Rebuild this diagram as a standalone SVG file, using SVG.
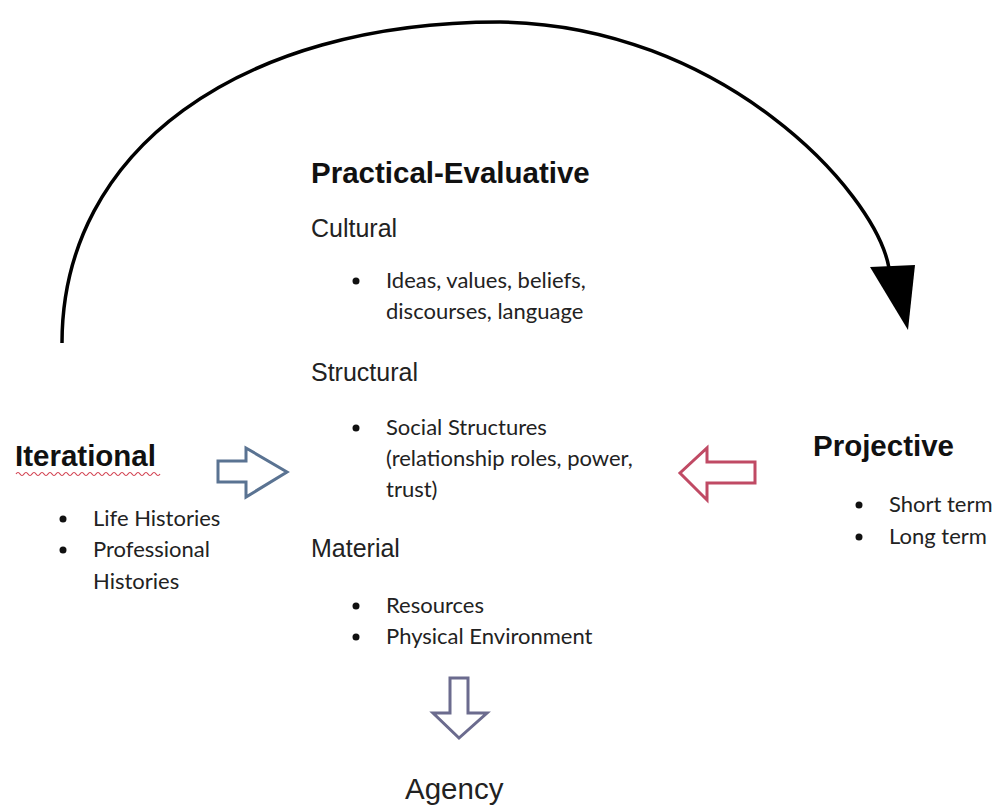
<svg xmlns="http://www.w3.org/2000/svg" width="999" height="805" viewBox="0 0 999 805">
<style>
.h{font-family:"Liberation Sans",Arial,sans-serif;font-weight:bold;font-size:29.5px;fill:#111}
.s{font-family:"Liberation Sans",Arial,sans-serif;font-size:25px;fill:#222}
.b{font-family:Lato,"Open Sans",sans-serif;font-size:22px;fill:#222}
.dot{fill:#111}
</style>
<rect width="999" height="805" fill="#fff"/>
<g id="connectors">
<path d="M62 343 C62 150 240 22 500 22 C720 25 875 190 889 268" fill="none" stroke="#000" stroke-width="3.5"/>
<polygon points="870,267 915,265 908,330" fill="#000"/>
<path id="arrow-right" d="M218 461 H246 V448 L287 472 L246 497 V482 H218 Z" fill="#fff" stroke="#5a7392" stroke-width="3" stroke-linejoin="miter"/>
<path id="arrow-left" d="M755 462 H707 V448 L680 473 L707 500 V483 H755 Z" fill="#fff" stroke="#c04a64" stroke-width="3"/>
<path id="arrow-down" d="M450 678 H468 V713 H487 L459 738 L433 713 H450 Z" fill="#fff" stroke="#6b6b8e" stroke-width="3"/>
</g>
<g id="practical-evaluative">
<text class="h" x="311" y="183">Practical-Evaluative</text>
<text class="s" x="311" y="237">Cultural</text>
<circle class="dot" cx="356" cy="281" r="3.5"/>
<text class="b" x="386" y="288">Ideas, values, beliefs,</text>
<text class="b" x="386" y="319">discourses, language</text>
<text class="s" x="311" y="381">Structural</text>
<circle class="dot" cx="356" cy="428" r="3.5"/>
<text class="b" x="386" y="435">Social Structures</text>
<text class="b" x="386" y="466">(relationship roles, power,</text>
<text class="b" x="386" y="497">trust)</text>
<text class="s" x="311" y="557">Material</text>
<circle class="dot" cx="356" cy="606" r="3.5"/>
<text class="b" x="386" y="613">Resources</text>
<circle class="dot" cx="356" cy="637" r="3.5"/>
<text class="b" x="386" y="644">Physical Environment</text>
</g>
<g id="iterational">
<text class="h" x="15" y="466">Iterational</text>
<path d="M16 474 q2 -3 4 0 t4 0 t4 0 t4 0 t4 0 t4 0 t4 0 t4 0 t4 0 t4 0 t4 0 t4 0 t4 0 t4 0 t4 0 t4 0 t4 0 t4 0 t4 0 t4 0 t4 0 t4 0 t4 0 t4 0 t4 0 t4 0 t4 0 t4 0 t4 0 t4 0 t4 0 t4 0 t4 0 t4 0 t4 0 t4 0" fill="none" stroke="#d24050" stroke-width="1.2"/>
<circle class="dot" cx="63" cy="519" r="3.5"/>
<text class="b" x="93" y="526">Life Histories</text>
<circle class="dot" cx="63" cy="550" r="3.5"/>
<text class="b" x="93" y="557">Professional</text>
<text class="b" x="93" y="589">Histories</text>
</g>
<g id="projective">
<text class="h" x="813" y="456">Projective</text>
<circle class="dot" cx="859" cy="505" r="3.5"/>
<text class="b" x="889" y="512">Short term</text>
<circle class="dot" cx="859" cy="537" r="3.5"/>
<text class="b" x="889" y="544">Long term</text>
</g>
<g id="agency">
<text class="s" x="405" y="799" style="font-size:29.5px">Agency</text>
</g>
</svg>
